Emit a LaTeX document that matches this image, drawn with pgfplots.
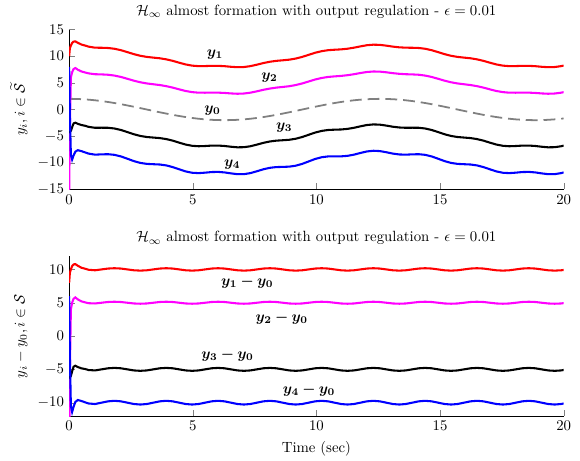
\documentclass[border=0pt]{standalone}
\usepackage{pgfplots}
\pgfplotsset{compat=1.18}
\usepackage{pgfplotstable}
\usepackage{amsmath,amssymb,bm}
\definecolor{matred}{RGB}{255,0,0}
\definecolor{matmag}{RGB}{255,0,255}
\definecolor{matblue}{RGB}{0,0,255}
\definecolor{matgray}{RGB}{128,128,128}

% t, reference y0, deviations d_i = y_i - y0, outputs y_i
\pgfplotstableread{
t      y0      d1     d2     d3     d4      y1      y2      y3      y4
0.000  2.000   8.00  -18.00  -6.00   6.00   10.000  -16.000  -4.000   8.000
0.030  2.000   9.50   -5.00  -6.20  -3.00   11.500   -3.000  -4.200  -1.000
0.070  1.999  10.00    4.00  -6.00 -10.50   12.000    6.000  -4.000  -8.500
0.120  1.996  10.50    5.00  -5.30 -11.40   12.496    6.996  -3.304  -9.404
0.180  1.992  10.75    5.60  -4.60 -10.60   12.742    7.592  -2.608  -8.608
0.250  1.984  10.80    5.80  -4.45  -9.90   12.784    7.784  -2.466  -7.916
0.350  1.969  10.55    5.50  -4.65  -9.60   12.519    7.469  -2.681  -7.631
0.500  1.938  10.25    5.20  -4.85  -9.75   12.188    7.138  -2.912  -7.812
0.650  1.895  10.10    5.05  -4.95  -9.95   11.995    6.945  -3.055  -8.055
0.785  1.848   9.95    4.93  -5.10 -10.12   11.798    6.778  -3.252  -8.272
1.047  1.732   9.87    4.89  -5.16 -10.20   11.602    6.622  -3.428  -8.468
1.309  1.587  10.00    5.00  -5.00 -10.00   11.587    6.587  -3.413  -8.413
1.571  1.414  10.13    5.11  -4.84  -9.80   11.544    6.524  -3.426  -8.386
1.833  1.218  10.18    5.15  -4.78  -9.72   11.398    6.368  -3.562  -8.502
2.094  1.000  10.13    5.11  -4.84  -9.80   11.130    6.110  -3.840  -8.800
2.356  0.765  10.00    5.00  -5.00 -10.00   10.765    5.765  -4.235  -9.235
2.618  0.518   9.87    4.89  -5.16 -10.20   10.388    5.408  -4.642  -9.682
2.880  0.261   9.82    4.85  -5.22 -10.28   10.081    5.111  -4.959 -10.019
3.142  0.000   9.87    4.89  -5.16 -10.20    9.870    4.890  -5.160 -10.200
3.403 -0.261  10.00    5.00  -5.00 -10.00    9.739    4.739  -5.261 -10.261
3.665 -0.518  10.13    5.11  -4.84  -9.80    9.612    4.592  -5.358 -10.318
3.927 -0.765  10.18    5.15  -4.78  -9.72    9.415    4.385  -5.545 -10.485
4.189 -1.000  10.13    5.11  -4.84  -9.80    9.130    4.110  -5.840 -10.800
4.451 -1.218  10.00    5.00  -5.00 -10.00    8.782    3.782  -6.218 -11.218
4.712 -1.414   9.87    4.89  -5.16 -10.20    8.456    3.476  -6.574 -11.614
4.974 -1.587   9.82    4.85  -5.22 -10.28    8.233    3.263  -6.807 -11.867
5.236 -1.732   9.87    4.89  -5.16 -10.20    8.138    3.158  -6.892 -11.932
5.498 -1.848  10.00    5.00  -5.00 -10.00    8.152    3.152  -6.848 -11.848
5.760 -1.932  10.13    5.11  -4.84  -9.80    8.198    3.178  -6.772 -11.732
6.021 -1.983  10.18    5.15  -4.78  -9.72    8.197    3.167  -6.763 -11.703
6.283 -2.000  10.13    5.11  -4.84  -9.80    8.130    3.110  -6.840 -11.800
6.545 -1.983  10.00    5.00  -5.00 -10.00    8.017    3.017  -6.983 -11.983
6.807 -1.932   9.87    4.89  -5.16 -10.20    7.938    2.958  -7.092 -12.132
7.069 -1.848   9.82    4.85  -5.22 -10.28    7.972    3.002  -7.068 -12.128
7.330 -1.732   9.87    4.89  -5.16 -10.20    8.138    3.158  -6.892 -11.932
7.592 -1.587  10.00    5.00  -5.00 -10.00    8.413    3.413  -6.587 -11.587
7.854 -1.414  10.13    5.11  -4.84  -9.80    8.716    3.696  -6.254 -11.214
8.116 -1.218  10.18    5.15  -4.78  -9.72    8.962    3.932  -5.998 -10.938
8.378 -1.000  10.13    5.11  -4.84  -9.80    9.130    4.110  -5.840 -10.800
8.639 -0.765  10.00    5.00  -5.00 -10.00    9.235    4.235  -5.765 -10.765
8.901 -0.518   9.87    4.89  -5.16 -10.20    9.352    4.372  -5.678 -10.718
9.163 -0.261   9.82    4.85  -5.22 -10.28    9.559    4.589  -5.481 -10.541
9.425  0.000   9.87    4.89  -5.16 -10.20    9.870    4.890  -5.160 -10.200
9.687  0.261  10.00    5.00  -5.00 -10.00   10.261    5.261  -4.739  -9.739
9.948  0.518  10.13    5.11  -4.84  -9.80   10.648    5.628  -4.322  -9.282
10.210 0.765  10.18    5.15  -4.78  -9.72   10.945    5.915  -4.015  -8.955
10.472 1.000  10.13    5.11  -4.84  -9.80   11.130    6.110  -3.840  -8.800
10.734 1.218  10.00    5.00  -5.00 -10.00   11.218    6.218  -3.782  -8.782
10.996 1.414   9.87    4.89  -5.16 -10.20   11.284    6.304  -3.746  -8.786
11.257 1.587   9.82    4.85  -5.22 -10.28   11.407    6.437  -3.633  -8.693
11.519 1.732   9.87    4.89  -5.16 -10.20   11.602    6.622  -3.428  -8.468
11.781 1.848  10.00    5.00  -5.00 -10.00   11.848    6.848  -3.152  -8.152
12.043 1.932  10.13    5.11  -4.84  -9.80   12.062    7.042  -2.908  -7.868
12.305 1.983  10.18    5.15  -4.78  -9.72   12.163    7.133  -2.797  -7.737
12.566 2.000  10.13    5.11  -4.84  -9.80   12.130    7.110  -2.840  -7.800
12.828 1.983  10.00    5.00  -5.00 -10.00   11.983    6.983  -3.017  -8.017
13.090 1.932   9.87    4.89  -5.16 -10.20   11.802    6.822  -3.228  -8.268
13.352 1.848   9.82    4.85  -5.22 -10.28   11.668    6.698  -3.372  -8.432
13.614 1.732   9.87    4.89  -5.16 -10.20   11.602    6.622  -3.428  -8.468
13.875 1.587  10.00    5.00  -5.00 -10.00   11.587    6.587  -3.413  -8.413
14.137 1.414  10.13    5.11  -4.84  -9.80   11.544    6.524  -3.426  -8.386
14.399 1.218  10.18    5.15  -4.78  -9.72   11.398    6.368  -3.562  -8.502
14.661 1.000  10.13    5.11  -4.84  -9.80   11.130    6.110  -3.840  -8.800
14.923 0.765  10.00    5.00  -5.00 -10.00   10.765    5.765  -4.235  -9.235
15.184 0.518   9.87    4.89  -5.16 -10.20   10.388    5.408  -4.642  -9.682
15.446 0.261   9.82    4.85  -5.22 -10.28   10.081    5.111  -4.959 -10.019
15.708 0.000   9.87    4.89  -5.16 -10.20    9.870    4.890  -5.160 -10.200
15.970 -0.261 10.00    5.00  -5.00 -10.00    9.739    4.739  -5.261 -10.261
16.232 -0.518 10.13    5.11  -4.84  -9.80    9.612    4.592  -5.358 -10.318
16.493 -0.765 10.18    5.15  -4.78  -9.72    9.415    4.385  -5.545 -10.485
16.755 -1.000 10.13    5.11  -4.84  -9.80    9.130    4.110  -5.840 -10.800
17.017 -1.218 10.00    5.00  -5.00 -10.00    8.782    3.782  -6.218 -11.218
17.279 -1.414  9.87    4.89  -5.16 -10.20    8.456    3.476  -6.574 -11.614
17.541 -1.587  9.82    4.85  -5.22 -10.28    8.233    3.263  -6.807 -11.867
17.802 -1.732  9.87    4.89  -5.16 -10.20    8.138    3.158  -6.892 -11.932
18.064 -1.848 10.00    5.00  -5.00 -10.00    8.152    3.152  -6.848 -11.848
18.326 -1.932 10.13    5.11  -4.84  -9.80    8.198    3.178  -6.772 -11.732
18.588 -1.983 10.18    5.15  -4.78  -9.72    8.197    3.167  -6.763 -11.703
18.850 -2.000 10.13    5.11  -4.84  -9.80    8.130    3.110  -6.840 -11.800
19.111 -1.983 10.00    5.00  -5.00 -10.00    8.017    3.017  -6.983 -11.983
19.373 -1.932  9.87    4.89  -5.16 -10.20    7.938    2.958  -7.092 -12.132
19.635 -1.848  9.82    4.85  -5.22 -10.28    7.972    3.002  -7.068 -12.128
19.897 -1.732  9.87    4.89  -5.16 -10.20    8.138    3.158  -6.892 -11.932
20.000 -1.678  9.92    4.94  -5.09 -10.12    8.242    3.262  -6.768 -11.798
}\simdata

\pgfplotsset{
  panel/.style={
    scale only axis,
    width=334pt, height=108pt,
    xmin=0, xmax=20,
    xtick={0,5,10,15,20},
    axis x line*=bottom,
    axis y line*=left,
    axis line style={-},
    tick align=inside,
    every axis title/.style={at={(0.5,1)}, anchor=south, yshift=4pt},
  },
  curve/.style={line width=1.4pt},
}

\begin{document}
\begin{tikzpicture}
\begin{axis}[panel, name=top,
    ymin=-15, ymax=15, ytick={-15,-10,...,15},
    title={$\mathcal{H}_\infty$ almost formation with output regulation - $\epsilon=0.01$},
    ylabel={$y_i, i\in\widetilde{\mathcal{S}}$},
  ]
  \addplot[matgray, line width=1.2pt, dash pattern=on 8pt off 4pt] table[x=t, y=y0] {\simdata};
  \addplot[curve, matred] table[x=t, y=y1] {\simdata};
  \addplot[curve, matmag] table[x=t, y=y2] {\simdata};
  \addplot[curve, black] table[x=t, y=y3] {\simdata};
  \addplot[curve, matblue] table[x=t, y=y4] {\simdata};
  \node at (axis cs:5.9,10.3) {$\bm{y_1}$};
  \node at (axis cs:8.1,6.0) {$\bm{y_2}$};
  \node at (axis cs:5.8,-0.2) {$\bm{y_0}$};
  \node at (axis cs:8.7,-3.4) {$\bm{y_3}$};
  \node at (axis cs:6.6,-10.3) {$\bm{y_4}$};
\end{axis}

\begin{axis}[panel, at={(top.south west)}, anchor=north west, yshift=-45pt,
    ymin=-12, ymax=12, ytick={-10,-5,...,10},
    title={$\mathcal{H}_\infty$ almost formation with output regulation - $\epsilon=0.01$},
    ylabel={$y_i-y_0, i\in\mathcal{S}$},
    xlabel={Time (sec)},
  ]
  \addplot[curve, matred] table[x=t, y=d1] {\simdata};
  \addplot[curve, matmag] table[x=t, y=d2] {\simdata};
  \addplot[curve, black] table[x=t, y=d3] {\simdata};
  \addplot[curve, matblue] table[x=t, y=d4] {\simdata};
  \node at (axis cs:7.2,8.1) {$\bm{y_1-y_0}$};
  \node at (axis cs:8.6,2.7) {$\bm{y_2-y_0}$};
  \node at (axis cs:6.4,-2.85) {$\bm{y_3-y_0}$};
  \node at (axis cs:9.7,-8.1) {$\bm{y_4-y_0}$};
\end{axis}
% a little extra margin left and right, as in the reference
\path ([xshift=-3.5pt]current bounding box.west);
\path ([xshift=2.7pt]current bounding box.east);
\end{tikzpicture}
\end{document}
